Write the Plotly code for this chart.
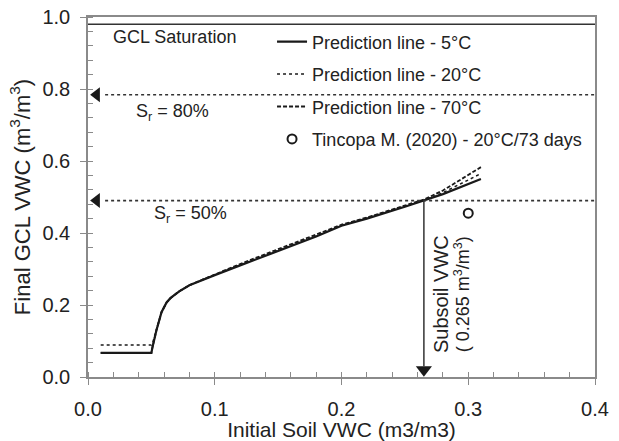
import plotly.graph_objects as go

# ---- data ----
x_5 = [0.01, 0.02, 0.03, 0.04, 0.05, 0.051, 0.054, 0.058, 0.062, 0.065, 0.068, 0.072, 0.08, 0.09, 0.10, 0.12, 0.15, 0.18, 0.20, 0.22, 0.25, 0.265, 0.28, 0.31]
y_5 = [0.067, 0.067, 0.067, 0.067, 0.067, 0.085, 0.13, 0.18, 0.207, 0.219, 0.228, 0.238, 0.255, 0.27, 0.283, 0.31, 0.35, 0.39, 0.42, 0.44, 0.473, 0.49, 0.508, 0.55]

x_20 = [0.01, 0.02, 0.03, 0.04, 0.05, 0.051, 0.054, 0.058, 0.062, 0.065, 0.068, 0.072, 0.08, 0.09, 0.10, 0.12, 0.15, 0.18, 0.20, 0.22, 0.25, 0.265, 0.28, 0.31]
y_20 = [0.089, 0.089, 0.089, 0.089, 0.089, 0.095, 0.13, 0.18, 0.207, 0.219, 0.228, 0.238, 0.255, 0.27, 0.284, 0.312, 0.352, 0.392, 0.421, 0.442, 0.475, 0.491, 0.512, 0.565]

x_70 = [0.01, 0.02, 0.03, 0.04, 0.05, 0.051, 0.054, 0.058, 0.062, 0.065, 0.068, 0.072, 0.08, 0.09, 0.10, 0.12, 0.15, 0.18, 0.20, 0.22, 0.25, 0.265, 0.28, 0.31]
y_70 = [0.067, 0.067, 0.067, 0.067, 0.067, 0.085, 0.13, 0.18, 0.207, 0.219, 0.228, 0.238, 0.255, 0.27, 0.285, 0.314, 0.355, 0.395, 0.423, 0.443, 0.476, 0.493, 0.518, 0.583]

x_tincopa = [0.30]
y_tincopa = [0.455]

gcl_saturation = 0.98
sr_levels = [0.80, 0.50]
sr_labels = ["S<sub>r</sub> = 80%", "S<sub>r</sub> = 50%"]
subsoil_vwc = 0.265

x_ticks = [0.0, 0.1, 0.2, 0.3, 0.4]
y_ticks = [0.0, 0.2, 0.4, 0.6, 0.8, 1.0]

FONT = "Liberation Sans, Arial, sans-serif"
INK = "#1a1a1a"
TXT = "#222222"
GREY = "#8a8a8a"

fig = go.Figure()

fig.add_trace(go.Scatter(x=x_5, y=y_5, mode="lines", name="Prediction line - 5°C",
                         line=dict(color=INK, width=2.2, dash="solid"), legendgroup="a"))
fig.add_trace(go.Scatter(x=x_20, y=y_20, mode="lines", name="Prediction line - 20°C",
                         line=dict(color=INK, width=1.5, dash="dot"), legendgroup="b"))
fig.add_trace(go.Scatter(x=x_70, y=y_70, mode="lines", name="Prediction line - 70°C",
                         line=dict(color=INK, width=1.8, dash="4px,2px"), legendgroup="c"))
fig.add_trace(go.Scatter(x=x_tincopa, y=y_tincopa, mode="markers", name="Tincopa M. (2020) - 20°C/73 days",
                         marker=dict(symbol="circle-open", size=9, color=INK, line=dict(width=2, color=INK)),
                         legendgroup="d"))

# saturation levels (dotted lines with left arrows)
for s in sr_levels:
    yv = s * gcl_saturation
    fig.add_trace(go.Scatter(x=[0.0135, 0.4], y=[yv, yv], mode="lines", showlegend=False,
                             line=dict(color="#333333", width=1.6, dash="dot"), hoverinfo="skip"))
    fig.add_trace(go.Scatter(x=[0.0068], y=[yv], mode="markers", showlegend=False,
                             marker=dict(symbol="triangle-left", size=13, color=INK), hoverinfo="skip"))

# GCL saturation line
fig.add_trace(go.Scatter(x=[0.0, 0.4], y=[gcl_saturation, gcl_saturation], mode="lines", showlegend=False,
                         line=dict(color="#333333", width=1.6), hoverinfo="skip"))

# vertical arrow to subsoil VWC
y_int = sr_levels[1] * gcl_saturation
fig.add_trace(go.Scatter(x=[subsoil_vwc, subsoil_vwc], y=[y_int, 0.03], mode="lines", showlegend=False,
                         line=dict(color="#333333", width=1.5), hoverinfo="skip"))
fig.add_trace(go.Scatter(x=[subsoil_vwc], y=[0.02], mode="markers", showlegend=False,
                         marker=dict(symbol="triangle-down", size=14, color=INK), hoverinfo="skip"))

annotations = [
    dict(x=0.0685, y=0.944, text="GCL Saturation", font_size=18),
    dict(x=0.067, y=0.736, text=sr_labels[0], font_size=18),
    dict(x=0.081, y=0.452, text=sr_labels[1], font_size=18),
    dict(x=0.279, y=0.06, text="Subsoil VWC", textangle=-90, yanchor="bottom", font_size=20),
    dict(x=0.2955, y=0.062, text="( 0.265 m<sup>3</sup>/m<sup>3</sup>)", textangle=-90, yanchor="bottom", font_size=18),
]
for a in annotations:
    fs = a.pop("font_size")
    a.update(xref="x", yref="y", showarrow=False, font=dict(family=FONT, size=fs, color=TXT))
fig.update_layout(annotations=annotations)

axis_common = dict(
    showgrid=False, zeroline=False, showline=True, linecolor=GREY, linewidth=1.5, mirror=True,
    ticks="outside", ticklen=6, tickcolor=GREY, tickwidth=1.2, automargin=False,
    tickfont=dict(family=FONT, size=20, color=TXT),
)

fig.update_xaxes(**axis_common, range=[0, 0.4], tickvals=x_ticks, tickformat=".1f", ticklabelstandoff=7,
                 minor=dict(dtick=0.02, ticks="inside", ticklen=5, tickcolor=GREY, tickwidth=1.2),
                 title=dict(text="Initial Soil VWC (m3/m3)", font=dict(family=FONT, size=21, color=TXT), standoff=6))
fig.update_yaxes(**axis_common, range=[0, 1.0], tickvals=y_ticks, tickformat=".1f", ticklabelstandoff=6,
                 minor=dict(dtick=0.04, ticks="inside", ticklen=5, tickcolor=GREY, tickwidth=1.2),
                 title=dict(text="Final GCL VWC (m<sup>3</sup>/m<sup>3</sup>)", font=dict(family=FONT, size=22, color=TXT), standoff=6))

fig.update_layout(
    width=619, height=441,
    margin=dict(l=88, r=24, t=17, b=64, autoexpand=False),
    plot_bgcolor="white", paper_bgcolor="white",
    font=dict(family=FONT, color=TXT),
    showlegend=True,
    legend=dict(x=0.363, y=0.982, xanchor="left", yanchor="top", bgcolor="rgba(0,0,0,0)",
                font=dict(family=FONT, size=18, color=TXT), tracegroupgap=6,
                itemwidth=30),
)

fig.write_html("out.html")
